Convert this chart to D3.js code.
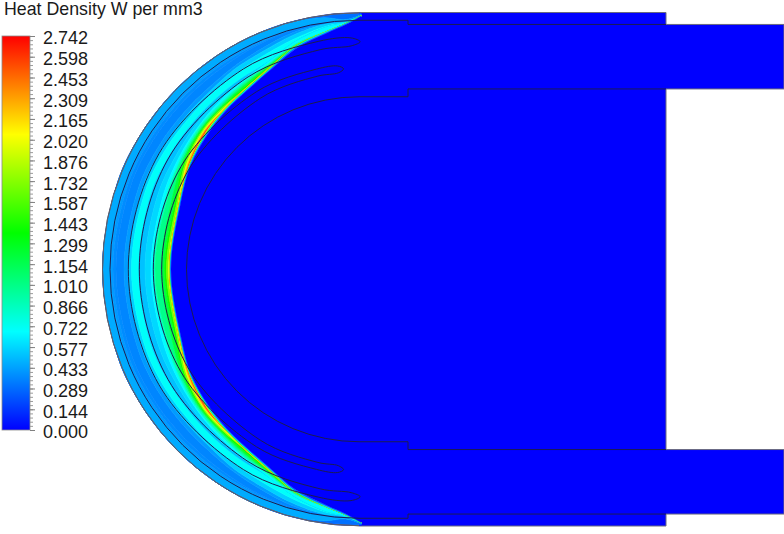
<!DOCTYPE html>
<html>
<head>
<meta charset="utf-8">
<script src="https://cdn.jsdelivr.net/npm/d3@7"></script>
<style>
  html, body { margin: 0; padding: 0; background: #fff; }
  svg { display: block; }
  text { font-family: "Liberation Sans", Arial, sans-serif; fill: #1a1a1a; }
  .edge { fill: none; stroke: #1c1c50; stroke-width: 1; }
</style>
</head>
<body>
<div id="chart"></div>
<script>
  var legendTitle = "Heat Density W per mm3";
  var legendValues = [2.742, 2.598, 2.453, 2.309, 2.165, 2.020, 1.876, 1.732, 1.587, 1.443,
                      1.299, 1.154, 1.010, 0.866, 0.722, 0.577, 0.433, 0.289, 0.144, 0.000];

  // degrees away from the left axis, mirrored for the lower half
  var stations = [0, 20, 32, 42, 50, 58, 66, 74, 82, 87, 90.5];

  // contour bands, outside to inside: value of the band and its outer radius at each station
  var bandValues = [0.12, 0.30, 0.46, 0.42, 0.38, 0.36, 0.42, 0.56, 0.70,
                    0.52, 0.58, 0.68, 0.85, 1.00, 1.20, 1.40, 1.70, 2.00, 2.30, 2.60,
                    2.00, 1.20, 0.60, 0.25];
  var bandRadii = [
    [256.5, 256.5, 256.5, 256.5, 256.5, 256.5, 256.5, 256.5, 256.5, 256.5, 256.0],
    [256.5, 256.5, 256.5, 256.5, 256.5, 256.5, 256.5, 256.5, 255.5, 255.5, 255.5],
    [256.5, 256.5, 256.5, 256.5, 256.5, 256.5, 256.5, 256.0, 254.0, 250.0, 254.5],
    [248.5, 248.5, 248.5, 248.5, 248.5, 248.5, 248.5, 248.5, 249.0, 249.0, 254.0],
    [246.0, 246.0, 246.0, 246.0, 246.0, 246.5, 247.0, 248.0, 248.5, 248.5, 253.8],
    [243.0, 243.0, 243.0, 243.0, 243.0, 244.0, 246.0, 247.5, 248.3, 248.3, 253.7],
    [235.0, 235.0, 235.0, 235.0, 235.5, 238.0, 241.0, 245.5, 248.0, 248.2, 253.6],
    [231.0, 231.0, 231.0, 231.0, 232.0, 235.5, 238.0, 243.0, 247.5, 248.0, 253.6],
    [227.5, 227.5, 227.5, 227.5, 229.0, 231.0, 234.0, 239.0, 245.0, 247.5, 253.5],
    [220.0, 221.0, 221.0, 221.5, 222.5, 224.0, 226.0, 236.0, 244.0, 247.0, 253.4],
    [214.0, 214.5, 215.5, 218.0, 220.5, 222.0, 226.0, 236.0, 244.0, 247.0, 253.4],
    [208.0, 209.0, 212.0, 215.0, 218.0, 221.0, 226.0, 236.0, 244.0, 247.0, 253.4],
    [206.0, 206.0, 210.0, 214.0, 216.0, 220.0, 224.5, 234.0, 240.5, 246.0, 253.3],
    [204.0, 204.0, 208.5, 212.5, 214.5, 218.5, 223.5, 233.0, 239.5, 246.0, 253.3],
    [198.0, 199.5, 207.0, 211.5, 213.5, 217.0, 222.5, 232.0, 239.5, 246.0, 253.3],
    [194.5, 196.0, 205.5, 210.5, 212.5, 215.5, 221.7, 232.0, 239.5, 246.0, 253.3],
    [192.5, 194.0, 204.0, 209.5, 211.5, 213.5, 221.0, 232.0, 239.5, 246.0, 253.3],
    [190.5, 192.3, 202.5, 208.5, 210.3, 213.5, 220.0, 232.0, 239.5, 246.0, 253.3],
    [189.5, 191.5, 201.0, 207.5, 209.0, 213.5, 220.0, 232.0, 239.5, 246.0, 253.2],
    [189.5, 191.5, 200.0, 206.5, 209.0, 213.5, 220.0, 232.0, 239.5, 246.0, 253.2],
    [189.5, 191.5, 199.5, 205.5, 209.0, 213.5, 220.0, 232.0, 239.5, 246.0, 253.2],
    [189.0, 191.0, 199.2, 204.8, 208.5, 212.8, 219.6, 232.0, 239.5, 246.0, 253.2],
    [188.7, 190.7, 198.8, 204.0, 208.0, 212.0, 219.0, 231.0, 239.5, 246.0, 253.1],
    [188.3, 190.3, 198.4, 203.4, 207.4, 211.4, 218.5, 230.3, 238.6, 245.5, 253.1]
  ];
  // where the blue solid starts
  var blueRadii = [188, 190, 198, 203, 207, 211, 218, 229.5, 238, 245, 253];

  // outline geometry in pixels from the arc centre
  var outerRadius = 256.5;
  var bodyRight = 307;
  var stepX = 49;
  var armRight = 425;
  var shellRadius = 249;
  var shellStepY = 244.8;
  var linerRadius = 172.5;
  var linerStepY = 180.3;
  var bodyTop = 256.75;

  var slotStations = [0, 30, 60, 80, 88];
  var slotA = { outer: [230.7, 231, 231.3, 231.5, 231.5], inner: [219.7, 220.5, 222, 223, 223.5], tip: 90.3, tipRadius: 227.5 };
  var slotStations2 = [0, 30, 60, 78, 84];
  var slotB = { outer: [205.7, 205.5, 205, 204.6, 204.4], inner: [197.3, 197.3, 197.4, 197.5, 197.5], tip: 85.6, tipRadius: 201 };

  var width = 784;
  var height = 534;
  var cx = 359;
  var cy = 269.25;

  var chart = d3.select('#chart').append("svg")
                .attr('width', width)
                .attr('height', height);

  // Ansys style rainbow
  var colour = d3.scaleLinear()
                 .domain([0, 0.25, 0.5, 0.75, 1].map(function(d){ return d * 2.742; }))
                 .range(["#0000ff", "#00ffff", "#00ff00", "#ffff00", "#ff0000"]);

  var x = d3.scaleLinear().domain([-cx, width - cx]).range([0, width]);
  var y = d3.scaleLinear().domain([-cy, height - cy]).range([0, height]);

  // stations run from the top tip through the left axis to the bottom tip
  function fullAngles(list) {
    var top = list.map(function(d){ return -(90 - d) * Math.PI / 180; });
    var bottom = list.map(function(d){ return -(90 + d) * Math.PI / 180; });
    return top.slice().reverse().concat(bottom.slice(1));
  }
  function fullRadii(row) {
    return row.slice().reverse().concat(row.slice(1));
  }

  var angles = fullAngles(stations);
  var plate = chart.append('g');
  var field = chart.append('g').attr('transform', 'translate(' + x(0) + ',' + y(0) + ')');
  var lines = chart.append('g');

  // -----------------------------------
  // Blue solid
  var bodyOutline = [[0, -bodyTop], [bodyRight, -bodyTop], [bodyRight, -shellStepY], [armRight, -shellStepY],
                     [armRight, -linerStepY], [bodyRight, -linerStepY], [bodyRight, linerStepY], [armRight, linerStepY],
                     [armRight, shellStepY], [bodyRight, shellStepY], [bodyRight, bodyTop], [0, bodyTop]];
  var line = d3.line()
               .x(function(d){ return x(d[0]); })
               .y(function(d){ return y(d[1]); });
  plate.append('path').datum(bodyOutline)
       .attr('d', line)
       .attr('fill', '#0000ff')
       .attr('stroke', '#6a6a80')
       .attr('stroke-width', 1);

  // -----------------------------------
  // Contour bands
  bandValues.forEach(function(value, i) {
    var outer = fullRadii(bandRadii[i]);
    var inner = fullRadii(i + 1 < bandRadii.length ? bandRadii[i + 1] : blueRadii);
    var band = d3.areaRadial()
                 .curve(d3.curveCatmullRom)
                 .angle(function(d, j){ return angles[j]; })
                 .innerRadius(function(d, j){ return inner[j]; })
                 .outerRadius(function(d, j){ return outer[j]; });
    field.append('path').datum(angles)
         .attr('d', band)
         .attr('fill', colour(value))
         .attr('stroke', colour(value))
         .attr('stroke-width', 0.6);
  });
  var solid = d3.areaRadial()
                .curve(d3.curveCatmullRom)
                .angle(function(d, j){ return angles[j]; })
                .innerRadius(0)
                .outerRadius(function(d, j){ return fullRadii(blueRadii)[j]; });
  field.append('path').datum(angles).attr('d', solid).attr('fill', colour(0));

  // -----------------------------------
  // Outline of the outer surface
  field.append('path')
       .attr('d', d3.arc()({ innerRadius: outerRadius, outerRadius: outerRadius, startAngle: 0, endAngle: -Math.PI }))
       .attr('fill', 'none')
       .attr('stroke', '#5c6070')
       .attr('stroke-width', 1);

  // Shell and liner: straight run, step, half circle, step, straight run
  function halfRing(radius, stepY) {
    var p = d3.path();
    p.moveTo(x(bodyRight), y(-stepY));
    p.lineTo(x(stepX), y(-stepY));
    p.lineTo(x(stepX), y(-radius));
    p.lineTo(x(0), y(-radius));
    p.arc(x(0), y(0), radius, -Math.PI / 2, Math.PI / 2, true);
    p.lineTo(x(stepX), y(radius));
    p.lineTo(x(stepX), y(stepY));
    p.lineTo(x(bodyRight), y(stepY));
    return p.toString();
  }
  lines.append('path').attr('class', 'edge').attr('d', halfRing(shellRadius, shellStepY));
  lines.append('path').attr('class', 'edge').attr('d', halfRing(linerRadius, linerStepY));

  // Slots are closed curves through both walls and the two rounded tips
  function drawSlot(list, slot) {
    var pts = [];
    var i;
    pts.push([slot.tip, slot.tipRadius]);
    for (i = list.length - 1; i >= 0; i--) pts.push([list[i], slot.outer[i]]);
    for (i = 1; i < list.length; i++) pts.push([-list[i], slot.outer[i]]);
    pts.push([-slot.tip, slot.tipRadius]);
    for (i = list.length - 1; i >= 0; i--) pts.push([-list[i], slot.inner[i]]);
    for (i = 1; i < list.length; i++) pts.push([list[i], slot.inner[i]]);
    var ring = d3.lineRadial()
                 .curve(d3.curveCatmullRomClosed)
                 .angle(function(d){ return -(90 - d[0]) * Math.PI / 180; })
                 .radius(function(d){ return d[1]; });
    field.append('path').datum(pts).attr('class', 'edge').attr('d', ring);
  }
  drawSlot(slotStations, slotA);
  drawSlot(slotStations2, slotB);

  // -----------------------------------
  // Legend
  var legendY = d3.scaleLinear().domain([0, 2.742]).range([430, 36]);
  var defs = chart.append('defs');
  var grad = defs.append('linearGradient').attr('id', 'ramp')
                 .attr('x1', 0).attr('x2', 0).attr('y1', 1).attr('y2', 0);
  colour.domain().forEach(function(d) {
    grad.append('stop')
        .attr('offset', d / 2.742)
        .attr('stop-color', colour(d));
  });
  chart.append('rect')
       .attr('x', 2).attr('y', legendY(2.742))
       .attr('width', 28).attr('height', legendY(0) - legendY(2.742))
       .attr('fill', 'url(#ramp)')
       .attr('stroke', '#8a8a8a')
       .attr('stroke-width', 0.8);

  var minorTicks = d3.range(0, 95).map(function(d){ return d * 2.742 / 95; });
  var minorAxis = d3.axisRight(legendY).tickValues(minorTicks).tickSize(3).tickFormat('');
  var minorG = chart.append('g').attr('transform', 'translate(30,0)').call(minorAxis);
  minorG.select('.domain').remove();
  minorG.selectAll('line').attr('stroke', '#9a9a9a');

  var legendAxis = d3.axisRight(legendY)
                     .tickValues(legendValues)
                     .tickSize(5)
                     .tickPadding(8)
                     .tickFormat(d3.format('.3f'));
  var axisG = chart.append('g').attr('transform', 'translate(30,0)').call(legendAxis);
  axisG.select('.domain').remove();
  axisG.selectAll('line').attr('stroke', '#808080');
  axisG.selectAll('text')
       .attr('font-family', '"Liberation Sans", Arial, sans-serif')
       .attr('font-size', 18)
       .attr('dy', '0.44em')
       .attr('fill', '#1a1a1a');

  chart.append('text')
       .attr('x', 4).attr('y', 15)
       .attr('font-size', 17.8)
       .text(legendTitle);
</script>
</body>
</html>
